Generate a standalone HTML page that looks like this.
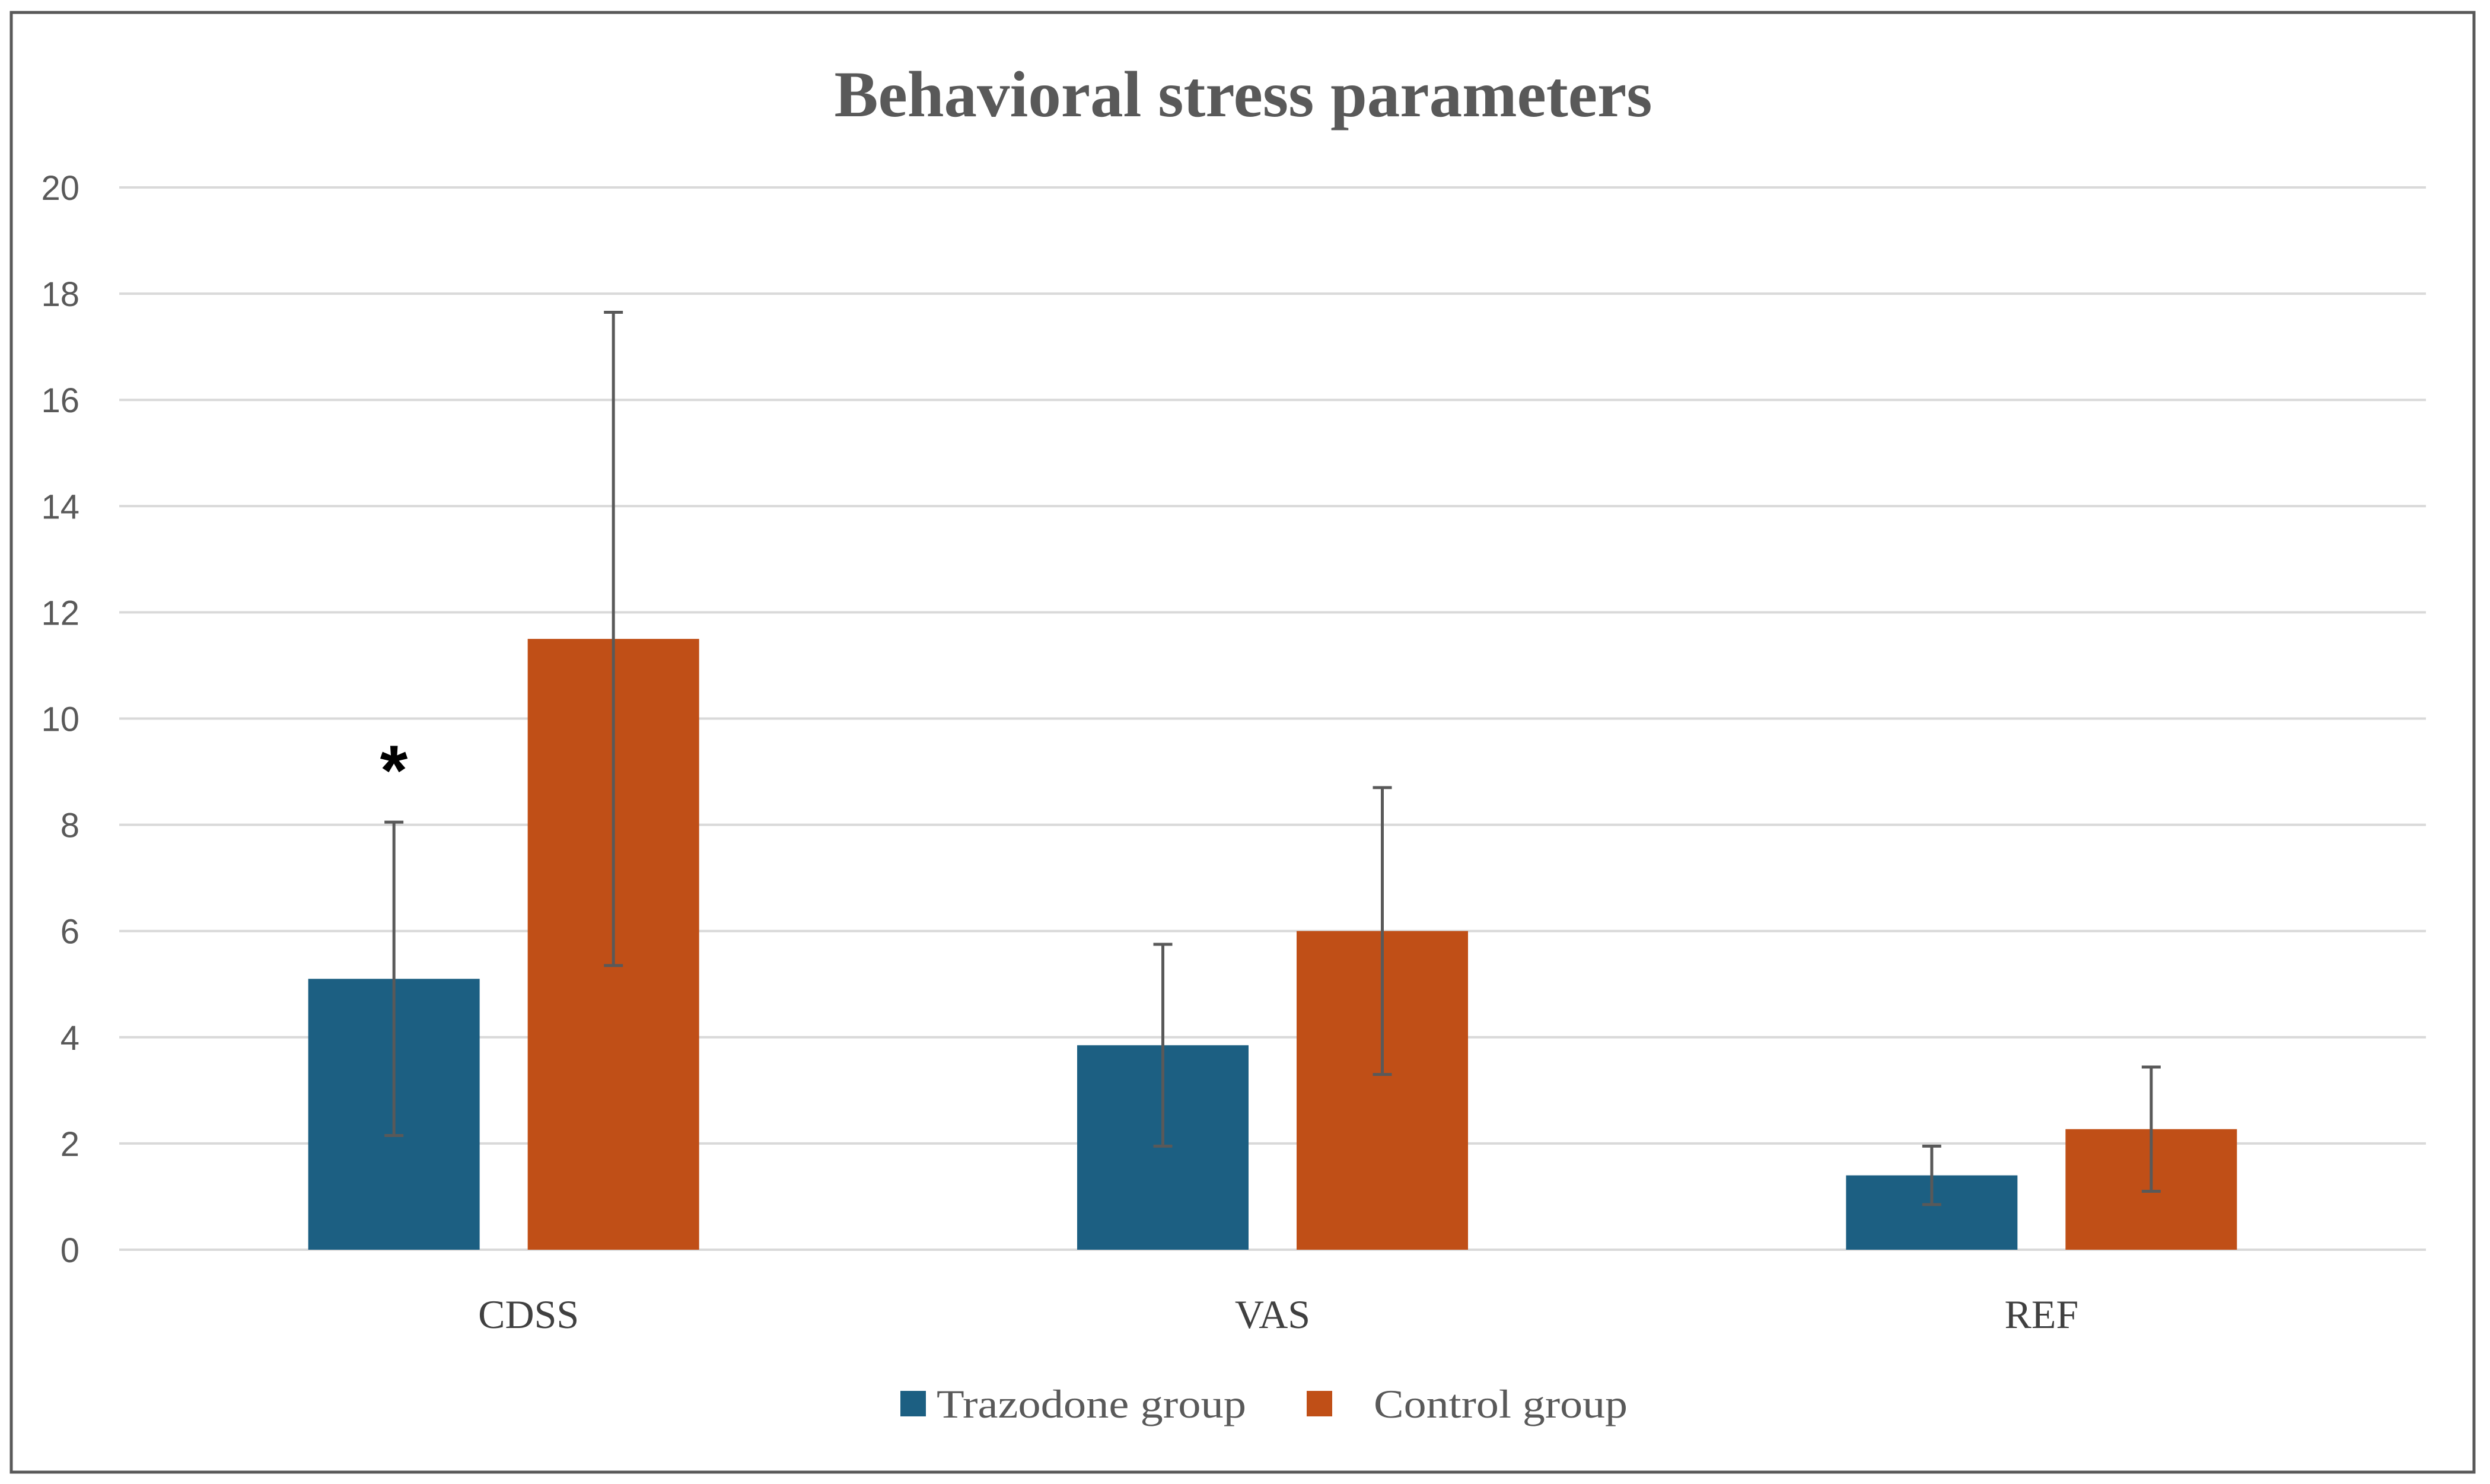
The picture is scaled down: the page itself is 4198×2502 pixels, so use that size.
<!DOCTYPE html>
<html><head><meta charset="utf-8"><style>
html,body{margin:0;padding:0;background:#fff;}
svg{display:block;}
</style></head><body>
<svg id="chart" width="4198" height="2502" viewBox="0 0 4198 2502" xmlns="http://www.w3.org/2000/svg">
<rect x="19" y="21" width="4152" height="2461" fill="#fff" stroke="#595959" stroke-width="5"/>
<text x="2096" y="196" text-anchor="middle" font-family="Liberation Serif, serif" font-weight="bold" font-size="110" fill="#595959" textLength="1379" lengthAdjust="spacingAndGlyphs">Behavioral stress parameters</text>
<g id="grid"></g><g id="bars"></g><g id="errs"></g><g id="labels"></g>
<text x="664" y="1340" text-anchor="middle" font-family="Liberation Sans, sans-serif" font-weight="bold" font-size="120" fill="#000">*</text>
<rect x="1518" y="2345" width="43" height="43" fill="#1c5f82"/>
<text x="1579" y="2390" font-family="Liberation Serif, serif" font-size="68" fill="#595959" textLength="522" lengthAdjust="spacingAndGlyphs">Trazodone group</text>
<rect x="2203" y="2345" width="43" height="43" fill="#c04f17"/>
<text x="2316" y="2390" font-family="Liberation Serif, serif" font-size="68" fill="#595959" textLength="428" lengthAdjust="spacingAndGlyphs">Control group</text>
</svg>
<script>
const categories = ["CDSS", "VAS", "REF"];
const trazodone = [5.1, 3.85, 1.4];
const control = [11.5, 6.0, 2.27];
const trazodoneErr = [2.95, 1.9, 0.55];
const controlErr = [6.15, 2.7, 1.17];
const yTicks = [0, 2, 4, 6, 8, 10, 12, 14, 16, 18, 20];

const NS = "http://www.w3.org/2000/svg";
const X0 = 201, X1 = 4090, Y0 = 2107, Y20 = 316, YMAX = 20;
const y = v => Y0 - (v / YMAX) * (Y0 - Y20);
const groupW = (X1 - X0) / categories.length;
const cx = i => X0 + groupW * (i + 0.5);
const BW = 289, GAP = 81;
function mk(tag, attrs, parent) {
  const e = document.createElementNS(NS, tag);
  for (const k in attrs) e.setAttribute(k, attrs[k]);
  document.getElementById(parent).appendChild(e);
  return e;
}
yTicks.forEach(t => {
  const l = mk("line", {x1: X0, x2: X1, y1: y(t), y2: y(t), stroke: "#d9d9d9", "stroke-width": 4}, "grid");
  
  
  const tx = mk("text", {x: 134, y: y(t) + 21, "text-anchor": "end", "font-family": "Liberation Sans, sans-serif", "font-size": 58, fill: "#595959"}, "labels");
  tx.textContent = t;
  
  
});
categories.forEach((c, i) => {
  const series = [[trazodone[i], trazodoneErr[i], "#1c5f82", "trazodone"], [control[i], controlErr[i], "#c04f17", "control"]];
  series.forEach((s, j) => {
    const bx = cx(i) - GAP / 2 - BW + j * (BW + GAP);
    const r = mk("rect", {x: bx, y: y(s[0]), width: BW, height: Y0 - y(s[0]), fill: s[2]}, "bars");
    
    
    const mx = bx + BW / 2, top = y(s[0] + s[1]), bot = y(s[0] - s[1]);
    const g = mk("g", {stroke: "#595959", "stroke-width": 5}, "errs");
    
    
    [[mx, top, mx, bot], [mx - 16, top, mx + 16, top], [mx - 16, bot, mx + 16, bot]].forEach(p => {
      const l = document.createElementNS(NS, "line");
      l.setAttribute("x1", p[0]); l.setAttribute("y1", p[1]); l.setAttribute("x2", p[2]); l.setAttribute("y2", p[3]);
      g.appendChild(l);
    });
  });
  const t = mk("text", {x: cx(i) + (i === 0 ? 42 : 0), y: 2239, "text-anchor": "middle", "font-family": "Liberation Serif, serif", "font-size": 68, fill: "#404040"}, "labels");
  t.textContent = c;
  
  
});
</script>
</body></html>
